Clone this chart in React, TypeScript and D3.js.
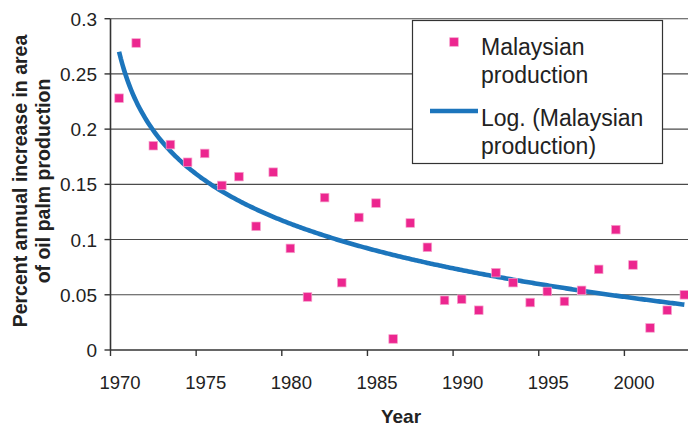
import React, { useRef, useEffect } from "react";
import * as d3 from "d3";

// Categories (one per year) and the observed values
const years = d3.range(1970, 2004).map(String);
const production = [
  0.228, 0.278, 0.185, 0.186, 0.170, 0.178, 0.149, 0.157, 0.112, 0.161,
  0.092, 0.048, 0.138, 0.061, 0.120, 0.133, 0.010, 0.115, 0.093, 0.045,
  0.046, 0.036, 0.070, 0.061, 0.043, 0.053, 0.044, 0.054, 0.073, 0.109,
  0.077, 0.020, 0.036, 0.050,
];
const yTicks = [0, 0.05, 0.1, 0.15, 0.2, 0.25, 0.3];
const xTickLabels = ["1970", "1975", "1980", "1985", "1990", "1995", "2000"];

const pink = "#ec268f";
const blue = "#1c75bc";
const font = "'Liberation Sans', Arial, sans-serif";

export default function App() {
  const ref = useRef<SVGSVGElement | null>(null);
  const width = 688, height = 426;
  const left = 110.5, bottom = 350, top = 18.7, step = 17.13;

  useEffect(() => {
    const svg = d3.select(ref.current);
    svg.selectAll("*").remove();

    const x = d3.scaleBand().domain(years).range([left, left + step * years.length]);
    const y = d3.scaleLinear().domain([0, 0.3]).range([bottom, top]);
    const cx = (yr: string) => (x(yr) as number) + x.bandwidth() / 2;

    // gridlines
    svg.append("g")
      .selectAll("line")
      .data(yTicks.filter(d => d > 0))
      .join("line")
      .attr("x1", left).attr("x2", width)
      .attr("y1", d => y(d)).attr("y2", d => y(d))
      .attr("stroke", "#4a4a4a").attr("stroke-width", 1.1);

    // y axis
    const yAxis = svg.append("g");
    yAxis.append("line")
      .attr("x1", left).attr("x2", left).attr("y1", top).attr("y2", bottom)
      .attr("stroke", "#333").attr("stroke-width", 1.6);
    yAxis.selectAll("line.tick")
      .data(yTicks).join("line").attr("class", "tick")
      .attr("x1", left - 6).attr("x2", left)
      .attr("y1", d => y(d)).attr("y2", d => y(d))
      .attr("stroke", "#333").attr("stroke-width", 1.4);
    yAxis.selectAll("text")
      .data(yTicks).join("text")
      .attr("x", 97).attr("y", d => y(d) + 7)
      .attr("text-anchor", "end")
      .attr("font-family", font).attr("font-size", 19).attr("fill", "#222")
      .text(d => String(d));

    // x axis
    const xAxis = svg.append("g");
    xAxis.append("line")
      .attr("x1", left).attr("x2", width).attr("y1", bottom).attr("y2", bottom)
      .attr("stroke", "#333").attr("stroke-width", 1.6);
    xAxis.selectAll("line.tick")
      .data(xTickLabels).join("line").attr("class", "tick")
      .attr("x1", d => x(d) as number).attr("x2", d => x(d) as number)
      .attr("y1", bottom).attr("y2", bottom + 6)
      .attr("stroke", "#333").attr("stroke-width", 1.4);
    xAxis.selectAll("text")
      .data(xTickLabels).join("text")
      .attr("x", d => cx(d) + 1).attr("y", 389)
      .attr("text-anchor", "middle")
      .attr("font-family", font).attr("font-size", 18.5).attr("fill", "#222")
      .text(d => d);

    // titles
    svg.append("text")
      .attr("x", 401).attr("y", 423)
      .attr("text-anchor", "middle")
      .attr("font-family", font).attr("font-size", 19).attr("font-weight", "bold").attr("fill", "#222")
      .text("Year");
    const yt = svg.append("text")
      .attr("transform", "translate(0,181) rotate(-90)")
      .attr("text-anchor", "middle")
      .attr("font-family", font).attr("font-size", 19.5).attr("font-weight", "bold").attr("fill", "#222");
    yt.append("tspan").attr("x", 0).attr("y", 27).text("Percent annual increase in area");
    yt.append("tspan").attr("x", 0).attr("y", 50).text("of oil palm production");

    // logarithmic trendline (least squares on x = 1..n)
    const lx = production.map((_, i) => Math.log(i + 1));
    const mx = d3.mean(lx) as number, my = d3.mean(production) as number;
    const a = d3.sum(lx, (v, i) => (v - mx) * (production[i] - my)) / d3.sum(lx, v => (v - mx) ** 2);
    const b = my - a * mx;
    const xi = d3.scaleLinear().domain([1, years.length]).range([cx(years[0]), cx(years[years.length - 1])]);
    const trend = d3.range(1, years.length + 0.001, 0.1).map(t => [xi(t), y(a * Math.log(t) + b)] as [number, number]);
    svg.append("path")
      .attr("d", d3.line()(trend))
      .attr("fill", "none").attr("stroke", blue).attr("stroke-width", 4.6);

    // points
    const s = 8.6;
    svg.append("g")
      .selectAll("rect")
      .data(production)
      .join("rect")
      .attr("x", (_, i) => cx(years[i]) - s / 2)
      .attr("y", d => y(d) - s / 2)
      .attr("width", s).attr("height", s)
      .attr("fill", pink).attr("stroke", "#f6a3cd").attr("stroke-width", 0.7);

    // legend
    const lg = svg.append("g");
    lg.append("rect")
      .attr("x", 412.5).attr("y", 20.5).attr("width", 250).attr("height", 143)
      .attr("fill", "#fff").attr("stroke", "#333").attr("stroke-width", 1.2);
    lg.append("rect")
      .attr("x", 454 - s / 2).attr("y", 42 - s / 2).attr("width", s).attr("height", s)
      .attr("fill", pink).attr("stroke", "#f6a3cd").attr("stroke-width", 0.7);
    lg.append("line")
      .attr("x1", 430).attr("x2", 478).attr("y1", 111).attr("y2", 111)
      .attr("stroke", blue).attr("stroke-width", 4.6);
    const labels = [["Malaysian", 55], ["production", 83], ["Log. (Malaysian", 126], ["production)", 154]] as const;
    lg.selectAll("text")
      .data(labels).join("text")
      .attr("x", 481).attr("y", d => d[1])
      .attr("font-family", font).attr("font-size", 23).attr("fill", "#222")
      .text(d => d[0]);
  }, []);

  return (
    <svg ref={ref} width={width} height={height}
      style={{ position: "absolute", left: 0, top: 0, background: "#fff" }} />
  );
}
